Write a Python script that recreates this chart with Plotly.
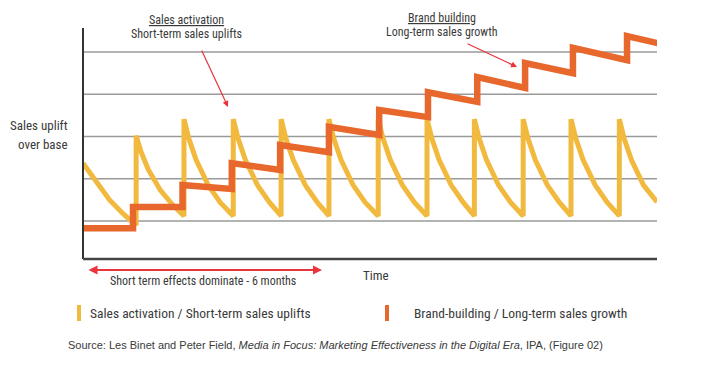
import plotly.graph_objects as go

# ---------------- data ----------------
# Sales activation: short-term uplifts (saw-tooth), time in arbitrary units
activation_x = [0.00, 0.30, 0.55, 0.85, 1.10,
                1.10, 1.15, 1.20, 1.35, 1.60, 1.85, 2.09,
                2.09, 2.14, 2.19, 2.34, 2.59, 2.84, 3.11,
                3.11, 3.16, 3.21, 3.36, 3.61, 3.86, 4.10,
                4.10, 4.15, 4.20, 4.35, 4.60, 4.85, 5.09,
                5.09, 5.14, 5.19, 5.34, 5.59, 5.84, 6.11,
                6.11, 6.16, 6.21, 6.36, 6.61, 6.86, 7.12,
                7.12, 7.17, 7.22, 7.37, 7.62, 7.87, 8.10,
                8.10, 8.15, 8.20, 8.35, 8.60, 8.85, 9.11,
                9.11, 9.16, 9.21, 9.36, 9.61, 9.86, 10.10,
                10.10, 10.15, 10.20, 10.35, 10.60, 10.85, 11.10,
                11.10, 11.15, 11.20, 11.35, 11.60, 11.88]
activation_y = [2.37, 1.90, 1.50, 1.15, 0.90,
                3.02, 2.81, 2.64, 2.22, 1.73, 1.39, 1.12,
                3.41, 3.16, 2.95, 2.45, 1.85, 1.44, 1.12,
                3.41, 3.16, 2.95, 2.45, 1.85, 1.44, 1.12,
                3.41, 3.16, 2.95, 2.45, 1.85, 1.44, 1.12,
                3.41, 3.16, 2.95, 2.45, 1.85, 1.44, 1.12,
                3.41, 3.16, 2.95, 2.45, 1.85, 1.44, 1.12,
                3.41, 3.16, 2.95, 2.45, 1.85, 1.44, 1.12,
                3.41, 3.16, 2.95, 2.45, 1.85, 1.44, 1.12,
                3.41, 3.16, 2.95, 2.45, 1.85, 1.44, 1.12,
                3.41, 3.16, 2.95, 2.45, 1.85, 1.44, 1.12,
                3.41, 3.16, 2.95, 2.45, 1.85, 1.45]

# Brand building: long-term growth (step line)
brand_x = [0.00, 1.035, 1.035, 2.06, 2.06, 3.08, 3.08, 4.08, 4.08, 5.09, 5.09,
           6.13, 6.13, 7.14, 7.14, 8.16, 8.16, 9.15, 9.15, 10.14, 10.14,
           11.26, 11.26, 11.90]
brand_y = [0.83, 0.83, 1.33, 1.33, 1.85, 1.76, 2.37, 2.21, 2.80, 2.63, 3.23,
           3.04, 3.63, 3.46, 4.05, 3.82, 4.41, 4.15, 4.74, 4.50, 5.10,
           4.81, 5.38, 5.21]

grid_levels = [1, 2, 3, 4, 5]

legend_labels = ["Sales activation / Short-term sales uplifts",
                 "Brand-building / Long-term sales growth"]

# ---------------- styling ----------------
OFF = 8                      # page body margin in the browser
W, H = 723 - OFF, 367 - OFF
L, R, T, B = 83 - OFF, 66, 28 - OFF, 108
X_RANGE = [0, 11.88]
Y_RANGE = [0.10, 5.57]
YELLOW = "#F2B93F"
ORANGE = "#E8672C"
RED = "#E8343C"
TXT = "#3a3a3a"
FONT = "Liberation Sans Narrow, Roboto Condensed, Open Sans, sans-serif"

pw = W - L - R
ph = H - T - B


def px(x):
    """page pixel x -> paper fraction"""
    return (x - OFF - L) / pw


def py(y):
    """page pixel y -> paper fraction"""
    return (H - B - (y - OFF)) / ph


fig = go.Figure()

fig.add_trace(go.Scatter(x=activation_x, y=activation_y, mode="lines",
                         line=dict(color=YELLOW, width=5),
                         hoverinfo="skip", showlegend=False))
fig.add_trace(go.Scatter(x=brand_x, y=brand_y, mode="lines",
                         line=dict(color=ORANGE, width=6.5),
                         hoverinfo="skip", showlegend=False))

shapes = []
for g in grid_levels:
    shapes.append(dict(type="line", xref="paper", yref="y", x0=0, x1=1,
                       y0=g, y1=g, line=dict(color="#9a9a9a", width=1.5),
                       layer="below"))
# axes
shapes.append(dict(type="line", xref="paper", yref="paper", x0=0, x1=0,
                   y0=0, y1=1, line=dict(color="#333333", width=2)))
shapes.append(dict(type="line", xref="paper", yref="paper", x0=0, x1=1,
                   y0=0, y1=0, line=dict(color="#444444", width=2.5)))
# legend marks
shapes.append(dict(type="line", xref="paper", yref="paper",
                   x0=px(79), x1=px(79), y0=py(305), y1=py(321),
                   line=dict(color=YELLOW, width=4)))
shapes.append(dict(type="line", xref="paper", yref="paper",
                   x0=px(387), x1=px(387), y0=py(305), y1=py(321),
                   line=dict(color=ORANGE, width=4)))

ann = []


def text(x, y, s, size=12, xanchor="center", under=False,
         family=FONT, color=TXT):
    f = dict(family=family, size=size, color=color)
    if under:
        f["lineposition"] = "under"
    ann.append(dict(xref="paper", yref="paper", x=px(x), y=py(y), text=s,
                    showarrow=False, xanchor=xanchor, yanchor="middle",
                    font=f))


text(186, 20, "Sales activation", 12, under=True)
text(186, 34, "Short-term sales uplifts", 12)
text(442, 18, "Brand building", 12, under=True)
text(442, 32, "Long-term sales growth", 12)
text(70, 126, "Sales uplift", 13, xanchor="right")
text(70, 144, "over base", 13, xanchor="right")
text(203, 281, "Short term effects dominate - 6 months", 12)
text(376, 275, "Time", 13)
text(88, 313, legend_labels[0], 13.5, xanchor="left")
text(412, 313, legend_labels[1], 13.5, xanchor="left")
text(66, 345,
     "Source: Les Binet and Peter Field, <i>Media in Focus: Marketing "
     "Effectiveness in the Digital Era</i>, IPA, (Figure 02)",
     11, xanchor="left", family="Liberation Sans, Arial, sans-serif")

# arrows
arrow = dict(xref="paper", yref="paper", showarrow=True, arrowcolor=RED,
             arrowwidth=1.2, arrowhead=2, arrowsize=1, text="", standoff=0,
             startstandoff=0, axref="pixel", ayref="pixel")
ann.append(dict(arrow, x=px(228), y=py(107), ax=-27, ay=-58))
ann.append(dict(arrow, x=px(517), y=py(67), ax=-51, ay=-24))
ann.append(dict(arrow, x=px(322), y=py(270), ax=-235, ay=0,
                arrowside="end+start", arrowwidth=1.8, startarrowhead=2,
                startarrowsize=1))

fig.update_layout(
    width=W, height=H,
    margin=dict(l=L, r=R, t=T, b=B, pad=0),
    paper_bgcolor="white", plot_bgcolor="white",
    xaxis=dict(range=X_RANGE, visible=False, fixedrange=True),
    yaxis=dict(range=Y_RANGE, visible=False, fixedrange=True),
    shapes=shapes, annotations=ann, showlegend=False,
)

fig.write_html("out.html", config={"displayModeBar": False})
